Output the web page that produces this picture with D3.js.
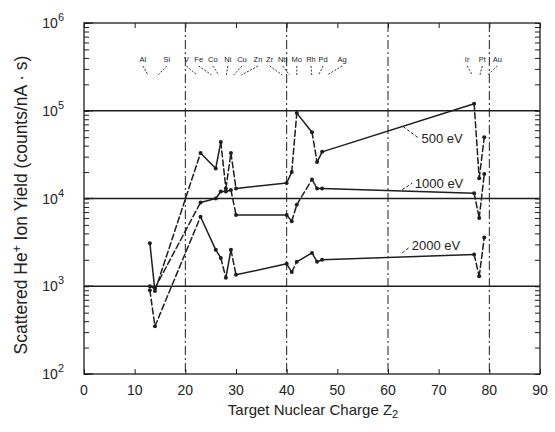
<!DOCTYPE html>
<html>
<head>
<meta charset="utf-8">
<script src="https://cdn.jsdelivr.net/npm/d3@7"></script>
<style>
  html, body { margin: 0; padding: 0; background: #fff; }
  svg { display: block; }
  text { font-family: "Liberation Sans", Arial, sans-serif; fill: #222; }
</style>
</head>
<body>
<svg id="chart" width="555" height="432"></svg>
<script>
// Target elements and their nuclear charge Z2
const elements = ["Al","Si","V","Fe","Co","Ni","Cu","Zn","Zr","Nb","Mo","Rh","Pd","Ag","Ir","Pt","Au"];
const z2 = [13,14,23,26,27,28,29,30,40,41,42,45,46,47,77,78,79];

// Scattered ion yield (counts/nA·s) for each primary energy
const yield500  = [3100, 880, 33000, 22000, 44000, 13000, 33000, 13000, 15000, 20000, 94000, 57000, 26000, 34000, 120000, 17000, 50000];
const yield1000 = [1000, 950, 9000, 10000, 12000, 12000, 12500, 6500, 6500, 5500, 8500, 16500, 13000, 13000, 11500, 6000, 19000];
const yield2000 = [900, 350, 6200, 2600, 2100, 1250, 2600, 1350, 1800, 1450, 1900, 2400, 1900, 2000, 2300, 1300, 3600];

const seriesNames = ["500 eV", "1000 eV", "2000 eV"];

// Axis ticks
const xTicks = [0,10,20,30,40,50,60,70,80,90];
const yExponents = [2,3,4,5,6];
const refLinesY = [1e3, 1e4, 1e5];
const refLinesX = [20, 40, 60, 80];

// Segment styling (index of segment start that is drawn dashed)
const dashedSegments = [
  [1,4,5,6,9,11,14,15],
  [0,1,6,9,10,14,15],
  [0,1,4,6,9,14,15]
];

// Label placement offsets (pixels) for element names above the plot
const labelDx = [-7,12,-14,-17,-8,2,11,22,-17,-9,0,-1,6,20,-7,3,13];

// Series annotation anchors: [Z, yield] for text, leader start, leader end
const annotations = [
  {text: seriesNames[0], at: [66.6, 43000], from: [63, 66000], to: [66, 49000]},
  {text: seriesNames[1], at: [65.3, 13200], from: [62.8, 12600], to: [64.8, 15000]},
  {text: seriesNames[2], at: [64.7, 2600],  from: [62.8, 2400],  to: [64.3, 2800]}
];

const svg = d3.select("#chart");
const plotL = 84, plotR = 540, plotT = 23, plotB = 374;

const x = d3.scaleLinear().domain([0, 90]).range([plotL, plotR]);
const y = d3.scaleLog().domain([100, 1e6]).range([plotB, plotT]);

const ink = "#1e1e1e";

// Frame
svg.append("rect")
  .attr("x", plotL).attr("y", plotT)
  .attr("width", plotR - plotL).attr("height", plotB - plotT)
  .attr("fill", "none").attr("stroke", ink).attr("stroke-width", 1.3);

// Horizontal reference lines at decades
svg.selectAll("line.href").data(refLinesY).enter().append("line")
  .attr("x1", plotL).attr("x2", plotR)
  .attr("y1", d => y(d)).attr("y2", d => y(d))
  .attr("stroke", ink).attr("stroke-width", 1.5);

// Vertical dash-dot reference lines
svg.selectAll("line.vref").data(refLinesX).enter().append("line")
  .attr("x1", d => x(d)).attr("x2", d => x(d))
  .attr("y1", plotT).attr("y2", plotB)
  .attr("stroke", ink).attr("stroke-width", 1)
  .attr("stroke-dasharray", "9,3,2,3");

// Left and right axes with log minor ticks pointing inward
const yAxisL = d3.axisRight(y).tickSize(5).tickFormat("");
const yAxisR = d3.axisLeft(y).tickSize(5).tickFormat("");
svg.append("g").attr("transform", `translate(${plotL},0)`).call(yAxisL)
  .call(g => g.select(".domain").remove())
  .call(g => g.selectAll(".tick line").attr("stroke", ink));
svg.append("g").attr("transform", `translate(${plotR},0)`).call(yAxisR)
  .call(g => g.select(".domain").remove())
  .call(g => g.selectAll(".tick line").attr("stroke", ink));
// Major decade ticks longer
svg.selectAll("line.majl").data(yExponents).enter().append("line")
  .attr("x1", plotL).attr("x2", plotL + 9)
  .attr("y1", d => y(Math.pow(10, d))).attr("y2", d => y(Math.pow(10, d)))
  .attr("stroke", ink).attr("stroke-width", 1.3);

// Bottom and top axes, ticks inward
const xAxisB = d3.axisTop(x).tickValues(xTicks).tickSize(5).tickFormat("");
svg.append("g").attr("transform", `translate(0,${plotB})`).call(xAxisB)
  .call(g => g.select(".domain").remove())
  .call(g => g.selectAll(".tick line").attr("stroke", ink));
const xAxisT = d3.axisBottom(x).tickValues(xTicks).tickSize(5).tickFormat("");
svg.append("g").attr("transform", `translate(0,${plotT})`).call(xAxisT)
  .call(g => g.select(".domain").remove())
  .call(g => g.selectAll(".tick line").attr("stroke", ink));

// X tick labels
svg.selectAll("text.xt").data(xTicks).enter().append("text")
  .attr("x", d => x(d)).attr("y", plotB + 21)
  .attr("text-anchor", "middle").attr("font-size", 14)
  .text(d => d);

// Y tick labels as powers of ten
const yl = svg.selectAll("text.yt").data(yExponents).enter().append("text")
  .attr("x", plotL - 20).attr("y", d => y(Math.pow(10, d)) + 5)
  .attr("text-anchor", "end").attr("font-size", 14);
yl.append("tspan").text("10");
yl.append("tspan").attr("dy", -7).attr("font-size", 11).text(d => d);

// Axis titles
const xt = svg.append("text")
  .attr("x", 313).attr("y", 415)
  .attr("text-anchor", "middle").attr("font-size", 15);
xt.append("tspan").text("Target Nuclear Charge Z");
xt.append("tspan").attr("dy", 3).attr("font-size", 11).text("2");

const ytl = svg.append("text")
  .attr("transform", "translate(27,205) rotate(-90)")
  .attr("text-anchor", "middle").attr("font-size", 17.5);
ytl.append("tspan").text("Scattered He");
ytl.append("tspan").attr("dy", -6).attr("font-size", 12).text("+");
ytl.append("tspan").attr("dy", 6).text(" Ion Yield (counts/nA · s)");

// Data series
const allSeries = [yield500, yield1000, yield2000];
allSeries.forEach((vals, si) => {
  const pts = z2.map((zz, i) => [zz, vals[i]]);
  const g = svg.append("g");
  for (let i = 0; i < pts.length - 1; i++) {
    const dashed = dashedSegments[si].includes(i);
    g.append("line")
      .attr("x1", x(pts[i][0])).attr("y1", y(pts[i][1]))
      .attr("x2", x(pts[i + 1][0])).attr("y2", y(pts[i + 1][1]))
      .attr("stroke", ink).attr("stroke-width", 1.5)
      .attr("stroke-dasharray", dashed ? "6,3" : null)
      .attr("stroke-linecap", "round");
  }
  g.selectAll("circle").data(pts).enter().append("circle")
    .attr("cx", d => x(d[0])).attr("cy", d => y(d[1]))
    .attr("r", 2).attr("fill", ink);
});

// Series annotations
annotations.forEach(a => {
  svg.append("line")
    .attr("x1", x(a.from[0])).attr("y1", y(a.from[1]))
    .attr("x2", x(a.to[0])).attr("y2", y(a.to[1]))
    .attr("stroke", ink).attr("stroke-width", 1)
    .attr("stroke-dasharray", "3,2");
  svg.append("text")
    .attr("x", x(a.at[0])).attr("y", y(a.at[1]))
    .attr("font-size", 13).text(a.text);
});

// Element names above the plot with leader lines
elements.forEach((el, i) => {
  const lx = x(z2[i]) + labelDx[i];
  svg.append("text")
    .attr("x", lx).attr("y", 62)
    .attr("text-anchor", "middle").attr("font-size", 7.5)
    .text(el);
  svg.append("line")
    .attr("x1", lx).attr("y1", 66)
    .attr("x2", x(z2[i]) + (lx - x(z2[i])) * 0.25).attr("y2", 75)
    .attr("stroke", ink).attr("stroke-width", 0.9)
    .attr("stroke-dasharray", "2,1.5");
});
</script>
</body>
</html>
